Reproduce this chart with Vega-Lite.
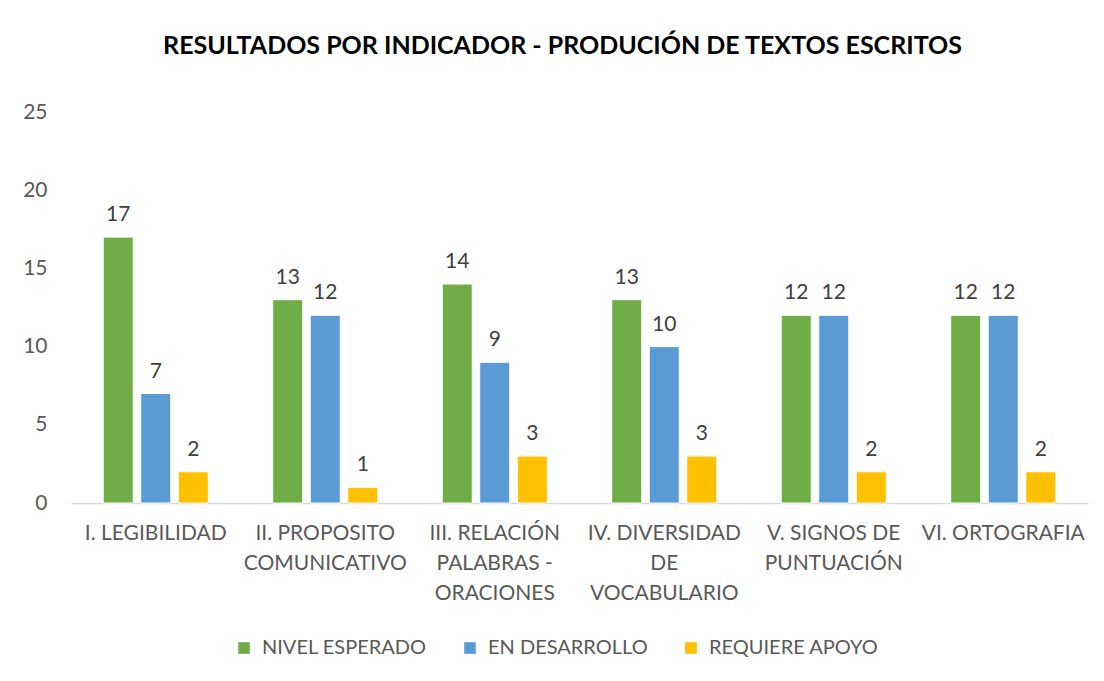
{
  "$schema": "https://vega.github.io/schema/vega-lite/v6.json",
  "width": 1017,
  "height": 391,
  "autosize": {"type": "none"},
  "padding": {"left": 71, "top": 112, "right": 16, "bottom": 178},
  "background": "white",
  "title": {
    "text": "RESULTADOS POR INDICADOR - PRODUCIÓN DE TEXTOS ESCRITOS",
    "font": "Lato",
    "fontSize": 25,
    "fontWeight": "bold",
    "color": "#000000",
    "anchor": "middle",
    "dx": -17,
    "offset": 42
  },
  "data": {
    "values": [
      {"indicador": "I. LEGIBILIDAD", "nivel": "NIVEL ESPERADO", "valor": 17},
      {"indicador": "I. LEGIBILIDAD", "nivel": "EN DESARROLLO", "valor": 7},
      {"indicador": "I. LEGIBILIDAD", "nivel": "REQUIERE APOYO", "valor": 2},
      {"indicador": "II. PROPOSITO|COMUNICATIVO", "nivel": "NIVEL ESPERADO", "valor": 13},
      {"indicador": "II. PROPOSITO|COMUNICATIVO", "nivel": "EN DESARROLLO", "valor": 12},
      {"indicador": "II. PROPOSITO|COMUNICATIVO", "nivel": "REQUIERE APOYO", "valor": 1},
      {"indicador": "III. RELACIÓN|PALABRAS -|ORACIONES", "nivel": "NIVEL ESPERADO", "valor": 14},
      {"indicador": "III. RELACIÓN|PALABRAS -|ORACIONES", "nivel": "EN DESARROLLO", "valor": 9},
      {"indicador": "III. RELACIÓN|PALABRAS -|ORACIONES", "nivel": "REQUIERE APOYO", "valor": 3},
      {"indicador": "IV. DIVERSIDAD|DE|VOCABULARIO", "nivel": "NIVEL ESPERADO", "valor": 13},
      {"indicador": "IV. DIVERSIDAD|DE|VOCABULARIO", "nivel": "EN DESARROLLO", "valor": 10},
      {"indicador": "IV. DIVERSIDAD|DE|VOCABULARIO", "nivel": "REQUIERE APOYO", "valor": 3},
      {"indicador": "V. SIGNOS DE|PUNTUACIÓN", "nivel": "NIVEL ESPERADO", "valor": 12},
      {"indicador": "V. SIGNOS DE|PUNTUACIÓN", "nivel": "EN DESARROLLO", "valor": 12},
      {"indicador": "V. SIGNOS DE|PUNTUACIÓN", "nivel": "REQUIERE APOYO", "valor": 2},
      {"indicador": "VI. ORTOGRAFIA", "nivel": "NIVEL ESPERADO", "valor": 12},
      {"indicador": "VI. ORTOGRAFIA", "nivel": "EN DESARROLLO", "valor": 12},
      {"indicador": "VI. ORTOGRAFIA", "nivel": "REQUIERE APOYO", "valor": 2}
    ]
  },
  "encoding": {
    "x": {
      "field": "indicador",
      "type": "nominal",
      "sort": null,
      "scale": {"paddingInner": 0.38, "paddingOuter": 0.19},
      "axis": {
        "title": null,
        "labelAngle": 0,
        "labelExpr": "split(datum.label, '|')",
        "labelFont": "Lato",
        "labelFontSize": 21,
        "labelColor": "#595959",
        "labelLineHeight": 30,
        "labelPadding": 19,
        "labelBaseline": "top",
        "ticks": false,
        "domainColor": "#D9D9D9",
        "domainWidth": 1.5,
        "labelLimit": 300
      }
    },
    "xOffset": {
      "field": "nivel",
      "type": "nominal",
      "sort": ["NIVEL ESPERADO", "EN DESARROLLO", "REQUIERE APOYO"],
      "scale": {"paddingInner": 0.2, "paddingOuter": 0}
    },
    "y": {
      "field": "valor",
      "type": "quantitative",
      "scale": {"domain": [0, 25]},
      "axis": {
        "title": null,
        "values": [0, 5, 10, 15, 20, 25],
        "grid": false,
        "domain": false,
        "ticks": false,
        "labelFont": "Lato",
        "labelFontSize": 21,
        "labelColor": "#595959",
        "labelPadding": 24
      }
    }
  },
  "layer": [
    {
      "mark": {"type": "bar", "stroke": "white", "strokeWidth": 1},
      "encoding": {
        "color": {
          "field": "nivel",
          "type": "nominal",
          "sort": ["NIVEL ESPERADO", "EN DESARROLLO", "REQUIERE APOYO"],
          "scale": {
            "domain": ["NIVEL ESPERADO", "EN DESARROLLO", "REQUIERE APOYO"],
            "range": ["#70AD47", "#5B9BD5", "#FFC000"]
          },
          "legend": {
            "title": null,
            "orient": "none",
            "direction": "horizontal",
            "legendX": 163,
            "legendY": 526,
            "symbolType": "square",
            "symbolSize": 135,
            "symbolStrokeWidth": 0,
            "labelFont": "Lato",
            "labelFontSize": 20,
            "labelColor": "#595959",
            "labelOffset": 8,
            "columnPadding": 33,
            "labelLimit": 300
          }
        }
      }
    },
    {
      "mark": {
        "type": "text",
        "baseline": "bottom",
        "dy": -12,
        "font": "Lato",
        "fontSize": 21,
        "color": "#404040"
      },
      "encoding": {
        "text": {"field": "valor", "type": "quantitative"}
      }
    }
  ],
  "config": {"view": {"stroke": null}}
}
